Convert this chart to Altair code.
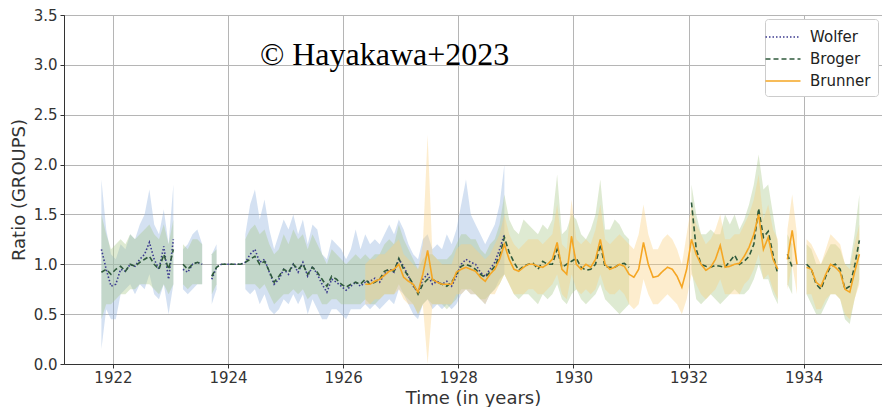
import altair as alt
import pandas as pd

# ---------------- data (monthly samples starting at T0) ----------------
T0 = 1921.8
STEP = 1 / 12
N = None

series_names = ["Wolfer", "Broger", "Brunner"]

# Wolfer (starts at index 0)
wolfer_start = 0
wolfer_val = [1.15, 0.95, 0.78, 0.80, 0.95, 0.93, 1.00, 0.98, 1.05, 1.10, 1.22, 1.05,
              0.95, 1.18, 0.85, 1.25, N, 0.95, 0.92, 1.00, 1.02, 1.00, N, 0.85,
              0.97, 1.00, 1.00, 1.00, 1.00, 1.00, 1.02, 1.10, 1.15, 1.02, 1.05, 0.92,
              0.80, 0.85, 0.95, 0.90, 1.00, 0.92, 1.02, 0.88, 0.98, 0.90, 0.80, 0.72,
              0.85, 0.82, 0.78, 0.74, 0.78, 0.82, 0.78, 0.82, 0.83, 0.86, 0.82, 0.90,
              0.95, 0.92, 1.05, 0.98, 0.88, 0.78, 0.72, 0.85, 0.90, 0.80, 0.83, 0.80,
              0.83, 0.78, 0.88, 1.00, 1.05, 1.02, 1.00, 0.92, 0.88, 0.95, 1.02, 1.15,
              1.30]
wolfer_lo = [0.15, 0.55, 0.45, 0.45, 0.70, 0.75, 0.80, 0.70, 0.80, 0.75, 0.90, 0.70,
             0.65, 0.80, 0.50, 0.80, N, 0.75, 0.70, 0.75, 0.80, 0.80, N, 0.60,
             0.75, N, N, N, N, N, 0.75, 0.70, 0.75, 0.60, 0.70, 0.55,
             0.50, 0.55, 0.65, 0.60, 0.70, 0.60, 0.70, 0.50, 0.65, 0.55, 0.45, 0.45,
             0.55, 0.55, 0.50, 0.45, 0.55, 0.55, 0.55, 0.60, 0.55, 0.60, 0.55, 0.60,
             0.65, 0.60, 0.75, 0.70, 0.60, 0.50, 0.45, 0.60, 0.65, 0.55, 0.60, 0.55,
             0.60, 0.55, 0.60, 0.70, 0.75, 0.70, 0.70, 0.65, 0.60, 0.70, 0.75, 0.85,
             0.90]
wolfer_hi = [1.85, 1.35, 1.10, 1.05, 1.20, 1.15, 1.30, 1.25, 1.40, 1.50, 1.75, 1.40,
             1.30, 1.55, 1.20, 1.80, N, 1.15, 1.20, 1.30, 1.35, 1.20, N, 1.10,
             1.20, N, N, N, N, N, 1.30, 1.60, 1.75, 1.45, 1.65, 1.35,
             1.15, 1.30, 1.45, 1.35, 1.50, 1.30, 1.45, 1.20, 1.40, 1.35, 1.10, 1.05,
             1.25, 1.20, 1.15, 1.05, 1.15, 1.35, 1.15, 1.30, 1.20, 1.25, 1.20, 1.30,
             1.40, 1.30, 1.45, 1.35, 1.20, 1.10, 1.05, 1.25, 1.30, 1.15, 1.20, 1.15,
             1.30, 1.20, 1.35, 1.60, 1.85, 1.50, 1.40, 1.30, 1.20, 1.30, 1.40, 1.60,
             2.00]

# Broger (starts at index 0)
broger_start = 0
broger_val = [0.92, 0.95, 0.90, 0.95, 0.98, 0.93, 1.00, 0.98, 1.02, 1.05, 1.08, 1.00,
              0.95, 1.10, 0.95, 1.15, N, 1.00, 0.95, 1.00, 1.02, 1.00, N, 0.88,
              0.97, 1.00, 1.00, 1.00, 1.00, 1.00, 1.02, 1.05, 1.08, 1.00, 1.03, 0.93,
              0.82, 0.88, 0.95, 0.92, 1.00, 0.95, 1.00, 0.90, 0.97, 0.92, 0.85, 0.78,
              0.88, 0.85, 0.80, 0.77, 0.80, 0.82, 0.80, 0.85, 0.80, 0.82, 0.85, 0.93,
              0.95, 0.93, 1.06, 0.95, 0.88, 0.80, 0.70, 0.80, 0.85, 0.85, 0.82, 0.80,
              0.78, 0.82, 0.90, 0.98, 1.00, 0.98, 0.95, 0.90, 0.87, 0.92, 0.98, 1.08,
              1.27, 1.12, 1.02, 0.94, 0.98, 1.00, 1.01, 0.95, 1.03, 1.00, 1.00, 1.15,
              0.97, 1.00, 1.03, 1.06, 0.97, 0.94, 0.95, 1.00, 1.20, 0.97, 0.97, 0.97,
              1.00, 1.01, 0.97, N, N, N, N, N, N, N, N, N,
              N, N, N, 1.62, 1.15, 1.00, 0.98, 0.97, 0.99, 0.98, 0.97, 1.03,
              1.09, 1.00, 1.03, 1.08, 1.20, 1.56, 1.27, 1.33, 1.10, 0.90, N, 1.10,
              0.97, N, N, 1.00, 0.95, 0.80, 0.75, 0.88, 0.98, 1.00, 0.95, 0.75,
              0.78, 0.98, 1.24]
broger_lo = [0.45, 0.60, 0.60, 0.65, 0.70, 0.70, 0.75, 0.75, 0.80, 0.80, 0.80, 0.75,
             0.70, 0.80, 0.70, 0.80, N, 0.80, 0.75, 0.80, 0.80, 0.80, N, 0.70,
             0.80, N, N, N, N, N, 0.80, 0.80, 0.80, 0.75, 0.80, 0.70,
             0.60, 0.65, 0.70, 0.70, 0.75, 0.70, 0.75, 0.65, 0.70, 0.70, 0.60, 0.60,
             0.65, 0.65, 0.60, 0.60, 0.60, 0.60, 0.60, 0.65, 0.60, 0.60, 0.65, 0.70,
             0.70, 0.70, 0.80, 0.70, 0.65, 0.60, 0.50, 0.60, 0.65, 0.60, 0.60, 0.60,
             0.55, 0.60, 0.65, 0.75, 0.75, 0.75, 0.70, 0.65, 0.65, 0.70, 0.75, 0.80,
             0.90, 0.80, 0.70, 0.65, 0.70, 0.70, 0.65, 0.60, 0.70, 0.65, 0.70, 0.80,
             0.65, 0.60, 0.70, 0.75, 0.65, 0.60, 0.65, 0.70, 0.80, 0.65, 0.60, 0.55,
             0.50, 0.55, 0.60, N, N, N, N, N, N, N, N, N,
             N, N, N, 0.95, 0.65, 0.60, 0.65, 0.70, 0.65, 0.60, 0.65, 0.70,
             0.75, 0.70, 0.70, 0.75, 0.85, 1.00, 0.85, 0.85, 0.70, 0.60, N, 0.80,
             0.70, N, N, 0.70, 0.60, 0.50, 0.50, 0.60, 0.70, 0.70, 0.65, 0.45,
             0.40, 0.65, 0.85]
broger_hi = [1.50, 1.30, 1.15, 1.20, 1.25, 1.20, 1.30, 1.25, 1.30, 1.35, 1.40, 1.30,
             1.25, 1.40, 1.20, 1.45, N, 1.20, 1.15, 1.25, 1.25, 1.20, N, 1.10,
             1.15, N, N, N, N, N, 1.25, 1.35, 1.40, 1.30, 1.35, 1.20,
             1.10, 1.15, 1.30, 1.20, 1.35, 1.25, 1.30, 1.15, 1.30, 1.20, 1.10, 1.00,
             1.15, 1.10, 1.05, 1.00, 1.05, 1.10, 1.05, 1.10, 1.05, 1.10, 1.10, 1.20,
             1.25, 1.20, 1.40, 1.25, 1.15, 1.05, 0.95, 1.05, 1.10, 1.10, 1.05, 1.05,
             1.05, 1.10, 1.20, 1.30, 1.30, 1.25, 1.25, 1.15, 1.10, 1.20, 1.25, 1.40,
             1.70, 1.45, 1.35, 1.30, 1.45, 1.40, 1.35, 1.30, 1.40, 1.35, 1.45, 1.90,
             1.30, 1.35, 1.50, 1.45, 1.30, 1.25, 1.35, 1.50, 1.85, 1.35, 1.35, 1.45,
             1.40, 1.30, 1.25, N, N, N, N, N, N, N, N, N,
             N, N, N, 1.80, 1.50, 1.30, 1.30, 1.35, 1.30, 1.30, 1.50, 1.40,
             1.50, 1.35, 1.45, 1.60, 1.80, 2.10, 1.75, 1.80, 1.50, 1.20, N, 1.30,
             1.20, N, N, 1.20, 1.15, 1.00, 1.00, 1.10, 1.20, 1.20, 1.15, 1.00,
             1.00, 1.30, 1.70]

# Brunner (starts at index 55)
brunner_start = 55
brunner_val = [0.80, 0.80, 0.83, 0.85, 0.89,
               0.93, 0.95, 1.00, 0.87, 0.83, 0.80, 0.72, 0.90, 1.14, 0.85, 0.82, 0.80,
               0.80, 0.80, 0.92, 0.95, 0.97, 0.95, 0.93, 0.87, 0.83, 0.90, 0.95, 1.05,
               1.20, 1.05, 0.95, 0.93, 0.97, 1.00, 1.00, 0.98, 0.97, 1.00, 1.05, 1.22,
               0.95, 0.90, 1.28, 1.00, 0.95, 1.00, 0.97, 1.05, 1.25, 1.00, 0.95, 0.97,
               1.00, 0.98, 0.90, 0.87, 0.95, 1.22, 1.00, 0.87, 0.88, 0.93, 0.97, 0.95,
               0.88, 0.77, 0.95, 1.25, 1.10, 1.00, 0.94, 0.97, 1.05, 1.19, 0.97, 0.98,
               1.00, 1.01, 1.08, 1.17, 1.30, 1.50, 1.15, 1.27, 1.05, 0.95, N, 1.05,
               1.34, 1.00, N, 0.97, 0.95, 0.82, 0.78, 0.90, 1.00, 0.97, 0.92, 0.75,
               0.72, 0.92, 1.10]
brunner_lo = [0.60, 0.60, 0.65, 0.65, 0.70,
              0.70, 0.70, 0.75, 0.65, 0.60, 0.60, 0.50, 0.60, 0.00, 0.60, 0.60, 0.60,
              0.60, 0.60, 0.70, 0.70, 0.75, 0.70, 0.70, 0.65, 0.60, 0.70, 0.70, 0.80,
              0.90, 0.80, 0.70, 0.70, 0.70, 0.75, 0.75, 0.70, 0.70, 0.75, 0.80, 0.90,
              0.70, 0.65, 0.90, 0.75, 0.70, 0.75, 0.70, 0.75, 0.90, 0.75, 0.70, 0.70,
              0.75, 0.70, 0.60, 0.55, 0.60, 0.85, 0.70, 0.60, 0.60, 0.65, 0.70, 0.65,
              0.60, 0.50, 0.65, 0.90, 0.80, 0.70, 0.65, 0.70, 0.75, 0.85, 0.70, 0.70,
              0.70, 0.70, 0.80, 0.85, 0.95, 1.10, 0.85, 0.90, 0.75, 0.65, N, 0.75,
              1.00, 0.70, N, 0.70, 0.70, 0.55, 0.55, 0.65, 0.70, 0.70, 0.65, 0.50,
              0.45, 0.65, 0.80]
brunner_hi = [1.00, 1.05, 1.05, 1.10, 1.10,
              1.15, 1.20, 1.25, 1.10, 1.05, 1.00, 0.95, 1.20, 2.30, 1.10, 1.05, 1.00,
              1.00, 1.00, 1.15, 1.20, 1.20, 1.20, 1.15, 1.10, 1.05, 1.10, 1.20, 1.30,
              1.50, 1.30, 1.20, 1.15, 1.20, 1.25, 1.25, 1.25, 1.20, 1.25, 1.30, 1.60,
              1.20, 1.15, 1.65, 1.25, 1.20, 1.25, 1.20, 1.35, 1.60, 1.25, 1.20, 1.25,
              1.30, 1.25, 1.20, 1.15, 1.30, 1.60, 1.30, 1.15, 1.15, 1.25, 1.30, 1.25,
              1.15, 1.00, 1.30, 1.60, 1.40, 1.30, 1.20, 1.25, 1.35, 1.50, 1.25, 1.25,
              1.30, 1.30, 1.40, 1.50, 1.65, 1.90, 1.45, 1.60, 1.35, 1.25, N, 1.35,
              1.70, 1.30, N, 1.25, 1.20, 1.10, 1.00, 1.15, 1.30, 1.25, 1.20, 1.00,
              0.95, 1.20, 1.40]

annotation_text = ["\u00a9 Hayakawa+2023"]
annotation_x = [1926.72]
annotation_y = [3.0]

x_ticks = [1922, 1924, 1926, 1928, 1930, 1932, 1934]
y_ticks = [0.0, 0.5, 1.0, 1.5, 2.0, 2.5, 3.0, 3.5]

line_colors = ["#3b3a8f", "#2f5a3c", "#f5a623"]
band_colors = ["#8fb0dd", "#a8c98a", "#fbcf7e"]
dashes = [[1.5, 2], [5, 3], [1, 0]]


# ---------------- tables ----------------
def build(name, start, val, lo, hi):
    lines, bands = [], []
    seg_l, seg_b = 0, 0
    for i, v in enumerate(val):
        t = T0 + (start + i) * STEP
        if v is None:
            seg_l += 1
        else:
            lines.append({"series": name, "t": t, "v": v, "seg": f"{name}-{seg_l}"})
        if lo[i] is None or hi[i] is None:
            seg_b += 1
        else:
            bands.append({"band": name + " band", "t": t, "lo": lo[i], "hi": hi[i],
                          "bseg": f"{name}-{seg_b}"})
    return lines, bands


L, B = [], []
for args in [("Wolfer", wolfer_start, wolfer_val, wolfer_lo, wolfer_hi),
             ("Broger", broger_start, broger_val, broger_lo, broger_hi),
             ("Brunner", brunner_start, brunner_val, brunner_lo, brunner_hi)]:
    l, b = build(*args)
    L += l
    B += b
line_df = pd.DataFrame(L)
band_df = pd.DataFrame(B)
ann_df = pd.DataFrame({"x": annotation_x, "y": annotation_y, "label": annotation_text})

x_scale = alt.Scale(domain=[1921.15, 1935.36], nice=False, zero=False)
y_scale = alt.Scale(domain=[0, 3.5], nice=False, zero=True)

x_axis = alt.Axis(values=x_ticks, format="d", title="Time (in years)", grid=True,
                  labelFontSize=15, titleFontSize=18, labelPadding=2, titlePadding=4,
                  tickSize=4)
y_axis = alt.Axis(values=y_ticks, format=".1f", title="Ratio (GROUPS)", grid=True,
                  labelFontSize=15, titleFontSize=18, labelPadding=3, titlePadding=5,
                  tickSize=4)

bands = alt.Chart(band_df).mark_area(fillOpacity=0.38, interpolate="linear").encode(
    x=alt.X("t:Q", scale=x_scale, axis=x_axis),
    y=alt.Y("lo:Q", scale=y_scale, axis=y_axis, stack=None),
    y2="hi:Q",
    fill=alt.Fill("band:N",
                  scale=alt.Scale(domain=[s + " band" for s in series_names], range=band_colors),
                  legend=None),
    detail="bseg:N",
)

legend = alt.Legend(title=None, orient="top-right", offset=4,
                    symbolType="M-1.75,0H1.75", symbolSize=400, symbolStrokeWidth=1.8,
                    symbolFillColor="transparent",
                    labelFontSize=15, labelFont="DejaVu Sans", labelColor="#222",
                    fillColor="white", strokeColor="#cccccc", padding=7, rowPadding=3,
                    cornerRadius=3, labelOffset=16, labelLimit=200)

lines = alt.Chart(line_df).mark_line().encode(
    x=alt.X("t:Q", scale=x_scale),
    y=alt.Y("v:Q", scale=y_scale),
    stroke=alt.Stroke("series:N", scale=alt.Scale(domain=series_names, range=line_colors),
                      legend=legend),
    strokeDash=alt.StrokeDash("series:N",
                              scale=alt.Scale(domain=series_names, range=dashes),
                              legend=legend),
    strokeWidth=alt.StrokeWidth("series:N",
                                scale=alt.Scale(domain=series_names, range=[1.6, 1.6, 1.8]),
                                legend=None),
    order=alt.Order("t:Q"),
    detail="seg:N",
)

text = alt.Chart(ann_df).mark_text(font="Liberation Serif", fontSize=32, color="black",
                                   baseline="alphabetic", align="center").encode(
    x=alt.X("x:Q", scale=x_scale), y=alt.Y("y:Q", scale=y_scale), text="label:N")

chart = alt.layer(
    bands,
    lines,
    text,
).properties(
    width=874, height=399,
    autosize=alt.AutoSizeParams(type="fit", contains="padding"),
    padding={"left": 2, "top": 0, "right": 0, "bottom": 0},
    background="white",
).configure_axis(
    gridColor="#b5b5b5", gridWidth=1, domainColor="#333", tickColor="#333",
    labelColor="#333", titleColor="#333", labelFont="DejaVu Sans",
    titleFont="DejaVu Sans", titleFontWeight="normal",
).configure_view(stroke="#333", strokeWidth=1)

chart.save("out.html", embed_options={"renderer": "svg", "actions": False})
